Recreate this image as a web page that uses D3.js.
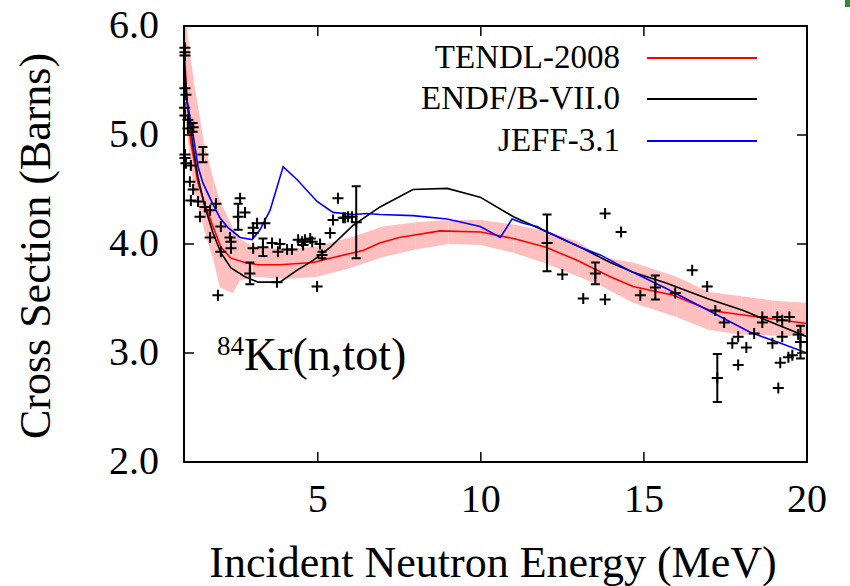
<!DOCTYPE html>
<html>
<head>
<meta charset="utf-8">
<script src="https://cdn.jsdelivr.net/npm/d3@7"></script>
<style>
  body { margin: 0; background: #fff; }
  text { font-family: "Liberation Serif", "DejaVu Serif", serif; fill: #000; }
</style>
</head>
<body>
<script>
// TENDL-2008 evaluation
var tendlE = [0.9, 0.95, 1.0, 1.1, 1.33, 1.57, 1.79, 2.03, 2.34, 2.77, 3.17, 3.84, 4.86, 5.38, 6.39, 6.9, 7.5, 8.75, 10, 11, 12, 12.95, 13.97, 14.67, 15.9, 17.04, 18.5, 20];
var tendlS = [5.92, 5.55, 5.3, 4.95, 4.56, 4.34, 4.16, 3.97, 3.87, 3.83, 3.81, 3.81, 3.83, 3.87, 3.94, 4.01, 4.06, 4.12, 4.11, 4.05, 3.97, 3.85, 3.70, 3.61, 3.53, 3.39, 3.33, 3.27];

// uncertainty band around TENDL
var bandE  = [0.9, 1.0, 1.2, 1.5, 1.8, 2.0, 2.4, 2.6, 3.0, 4, 5, 6, 7, 8, 9, 10, 11, 12, 13, 13.66, 14.67, 16, 17, 18, 19, 20];
var bandLo = [5.4, 5.0, 4.5, 4.15, 3.85, 3.6, 3.55, 3.66, 3.70, 3.68, 3.70, 3.78, 3.88, 3.95, 4.0, 3.99, 3.92, 3.82, 3.70, 3.62, 3.46, 3.33, 3.21, 3.17, 3.16, 3.15];
var bandHi = [6.2, 5.95, 5.5, 4.95, 4.6, 4.4, 4.15, 4.05, 3.98, 3.95, 3.98, 4.06, 4.16, 4.2, 4.22, 4.22, 4.18, 4.12, 4.02, 3.88, 3.83, 3.70, 3.56, 3.52, 3.48, 3.46];

// ENDF/B-VII.0
var endfE = [0.9, 1.0, 1.11, 1.18, 1.33, 1.54, 1.79, 2.03, 2.34, 2.77, 3.17, 3.84, 4.37, 4.86, 5.38, 6.08, 6.91, 7.92, 8.97, 9.98, 11, 12.03, 13.05, 13.97, 14.67, 15.7, 16.94, 18.05, 19.09, 20];
var endfS = [5.7, 5.3, 5.05, 4.89, 4.61, 4.34, 4.10, 3.92, 3.78, 3.70, 3.65, 3.65, 3.76, 3.85, 3.97, 4.17, 4.34, 4.50, 4.51, 4.43, 4.25, 4.11, 3.97, 3.83, 3.74, 3.64, 3.50, 3.39, 3.26, 3.15];

// JEFF-3.1
var jeffE = [0.93, 1.0, 1.18, 1.33, 1.48, 1.73, 2.0, 2.25, 2.62, 2.99, 3.23, 3.54, 3.94, 4.37, 4.98, 5.47, 6.08, 6.51, 6.91, 7.92, 8.97, 9.98, 10.6, 10.96, 11.3, 11.73, 11.9, 13.05, 13.66, 14.67, 15.7, 17.04, 18.26, 19.09, 20];
var jeffS = [5.46, 5.3, 5.0, 4.71, 4.56, 4.40, 4.24, 4.15, 4.06, 4.04, 4.13, 4.31, 4.71, 4.59, 4.39, 4.29, 4.27, 4.28, 4.27, 4.26, 4.23, 4.16, 4.06, 4.23, 4.19, 4.16, 4.13, 3.97, 3.90, 3.74, 3.59, 3.38, 3.19, 3.10, 3.0];

// experimental data
var expE = [0.93, 0.93, 0.93, 0.93, 0.96, 0.92, 0.93, 1.02, 1.02, 1.18, 0.93, 0.93, 0.96, 1.11, 1.48, 1.08, 1.18, 1.11, 1.33, 1.39, 1.54, 1.70, 1.88, 1.70, 2.03, 2.03, 2.31, 2.34, 2.34, 2.62, 2.56, 2.77, 1.94, 2.92, 3.02, 3.02,
            5.62, 5.38, 5.47, 5.84, 3.38, 3.14, 3.02, 3.32, 3.60, 3.84, 3.78, 4.06, 4.21, 4.40, 4.52, 4.61, 4.77, 4.83, 5.07, 3.75, 4.98, 5.13, 4.55, 5.78, 5.93, 6.05, 6.18,
            12.03, 12.50, 13.81, 13.14, 13.81, 13.51, 14.30, 14.89, 15.35, 15.96, 16.48, 16.94, 17.19, 17.46, 17.71, 17.89, 18.14, 17.89, 18.38, 18.63, 18.63, 18.94, 19.09, 19.24, 19.46, 19.24, 19.18, 19.12, 19.43, 19.55, 19.73, 19.80, 17.25];
var expS = [5.80, 5.76, 5.73, 5.43, 5.37, 5.25, 5.18, 5.14, 5.06, 5.07, 4.82, 4.79, 4.74, 4.72, 4.82, 4.57, 4.50, 4.40, 4.39, 4.25, 4.34, 4.31, 4.37, 4.06, 4.16, 3.93, 4.06, 3.96, 4.02, 4.42, 4.25, 4.29, 3.53, 3.73, 4.15, 3.96,
            4.42, 4.10, 4.22, 4.24, 4.19, 4.19, 4.10, 3.97, 4.01, 4.00, 3.93, 3.95, 3.95, 4.04, 4.02, 4.04, 4.05, 4.02, 4.00, 3.65, 3.61, 3.90, 3.99, 4.24, 4.25, 4.25, 4.20,
            4.01, 3.72, 4.28, 3.50, 3.49, 3.73, 4.11, 3.53, 3.60, 3.55, 3.76, 3.61, 3.39, 3.28, 3.09, 3.15, 3.05, 2.89, 3.18, 3.33, 3.28, 3.09, 3.33, 3.30, 3.33, 3.15, 2.91, 2.68, 2.96, 2.98, 3.17, 3.10, 2.77];
// error bars: energy, cross section, half-height
var barE   = [1.18, 1.48, 2.56, 2.92, 3.32, 5.13, 6.18, 12.03, 13.51, 15.35, 19.80, 17.25];
var barS   = [5.07, 4.82, 4.25, 3.73, 3.97, 3.90, 4.20, 4.01, 3.73, 3.60, 3.10, 2.77];
var barErr = [0.04, 0.07, 0.12, 0.10, 0.08, 0.03, 0.33, 0.26, 0.10, 0.11, 0.15, 0.22];

var seriesNames = ["TENDL-2008", "ENDF/B-VII.0", "JEFF-3.1"];
var seriesColors = ["#ff0000", "#000000", "#0000ff"];
var xTicks = [5, 10, 15, 20];
var yTicks = [2, 3, 4, 5, 6];

var W = 850, H = 586;
var pl = 184, pr = 807, pt = 26, pb = 462;

var x = d3.scaleLinear().domain([0.9, 20]).range([pl, pr]);
var y = d3.scaleLinear().domain([2, 6]).range([pb, pt]);

var svg = d3.select("body").append("svg")
  .attr("width", W).attr("height", H);

svg.append("defs").append("clipPath").attr("id", "plot")
  .append("rect").attr("x", pl).attr("y", pt)
  .attr("width", pr - pl).attr("height", pb - pt);

var plot = svg.append("g").attr("clip-path", "url(#plot)");

// band, drawn strip by strip like the original
var band = bandE.map(function(e, i) { return [e, bandLo[i], bandHi[i]]; });
var area = d3.area()
  .x(function(d) { return x(d[0]); })
  .y0(function(d) { return y(d[1]); })
  .y1(function(d) { return y(d[2]); });
for (var i = 0; i < band.length - 1; i++) {
  plot.append("path")
    .attr("d", area([band[i], band[i + 1]]))
    .attr("fill", "#ffbfbf");
}

// experimental points
var pg = svg.append("g").attr("stroke", "#000").attr("stroke-width", 2).attr("fill", "none");
expE.forEach(function(e, i) {
  var px = x(e), py = y(expS[i]);
  pg.append("path").attr("d", "M" + (px - 5.5) + "," + py + "H" + (px + 5.5) + "M" + px + "," + (py - 5.5) + "V" + (py + 5.5));
});
barE.forEach(function(e, i) {
  var px = x(e), y0 = y(barS[i] - barErr[i]), y1 = y(barS[i] + barErr[i]);
  pg.append("path").attr("d",
    "M" + px + "," + y0 + "V" + y1 +
    "M" + (px - 4.5) + "," + y0 + "H" + (px + 4.5) +
    "M" + (px - 4.5) + "," + y1 + "H" + (px + 4.5));
});

// evaluations
var line = d3.line()
  .x(function(d) { return x(d[0]); })
  .y(function(d) { return y(d[1]); });
var curves = [
  tendlE.map(function(e, i) { return [e, tendlS[i]]; }),
  endfE.map(function(e, i) { return [e, endfS[i]]; }),
  jeffE.map(function(e, i) { return [e, jeffS[i]]; })
];
curves.forEach(function(c, i) {
  plot.append("path")
    .attr("d", line(c))
    .attr("fill", "none")
    .attr("stroke", seriesColors[i])
    .attr("stroke-width", 1.6);
});

// frame and ticks
svg.append("rect")
  .attr("x", pl).attr("y", pt)
  .attr("width", pr - pl).attr("height", pb - pt)
  .attr("fill", "none").attr("stroke", "#000").attr("stroke-width", 2);

var ticks = svg.append("g").attr("stroke", "#000").attr("stroke-width", 1.5);
xTicks.forEach(function(t) {
  if (t < 20) {
    ticks.append("line").attr("x1", x(t)).attr("x2", x(t)).attr("y1", pb).attr("y2", pb - 10);
    ticks.append("line").attr("x1", x(t)).attr("x2", x(t)).attr("y1", pt).attr("y2", pt + 10);
  }
  svg.append("text")
    .attr("x", x(t)).attr("y", 512)
    .attr("text-anchor", "middle")
    .style("font-size", "40px")
    .text(t);
});
yTicks.forEach(function(t) {
  if (t > 2 && t < 6) {
    ticks.append("line").attr("x1", pl).attr("x2", pl + 10).attr("y1", y(t)).attr("y2", y(t));
    ticks.append("line").attr("x1", pr).attr("x2", pr - 10).attr("y1", y(t)).attr("y2", y(t));
  }
  svg.append("text")
    .attr("x", 159).attr("y", y(t) + 12)
    .attr("text-anchor", "end")
    .style("font-size", "40px")
    .text(d3.format(".1f")(t));
});

// axis titles
svg.append("text")
  .attr("x", 493).attr("y", 577)
  .attr("text-anchor", "middle")
  .style("font-size", "44px")
  .text("Incident Neutron Energy (MeV)");
svg.append("text")
  .attr("transform", "translate(50,246)rotate(-90)")
  .attr("text-anchor", "middle")
  .style("font-size", "44px")
  .text("Cross Section (Barns)");

// reaction label
var lab = svg.append("text").attr("x", 217).attr("y", 370);
lab.append("tspan").style("font-size", "27px").attr("dy", -15).text("84");
lab.append("tspan").style("font-size", "46px").attr("dy", 15).text("Kr(n,tot)");

// legend
seriesNames.forEach(function(n, i) {
  var ly = [58, 99, 141][i];
  svg.append("text")
    .attr("x", 620).attr("y", ly + 10)
    .attr("text-anchor", "end")
    .style("font-size", "33px")
    .text(n);
  svg.append("line")
    .attr("x1", 647).attr("x2", 757).attr("y1", ly).attr("y2", ly)
    .attr("stroke", seriesColors[i]).attr("stroke-width", 2);
});

// green corner mark from the source image
svg.append("rect").attr("x", 845).attr("y", 0).attr("width", 5).attr("height", 7).attr("fill", "#2f8a3c");
</script>
</body>
</html>
